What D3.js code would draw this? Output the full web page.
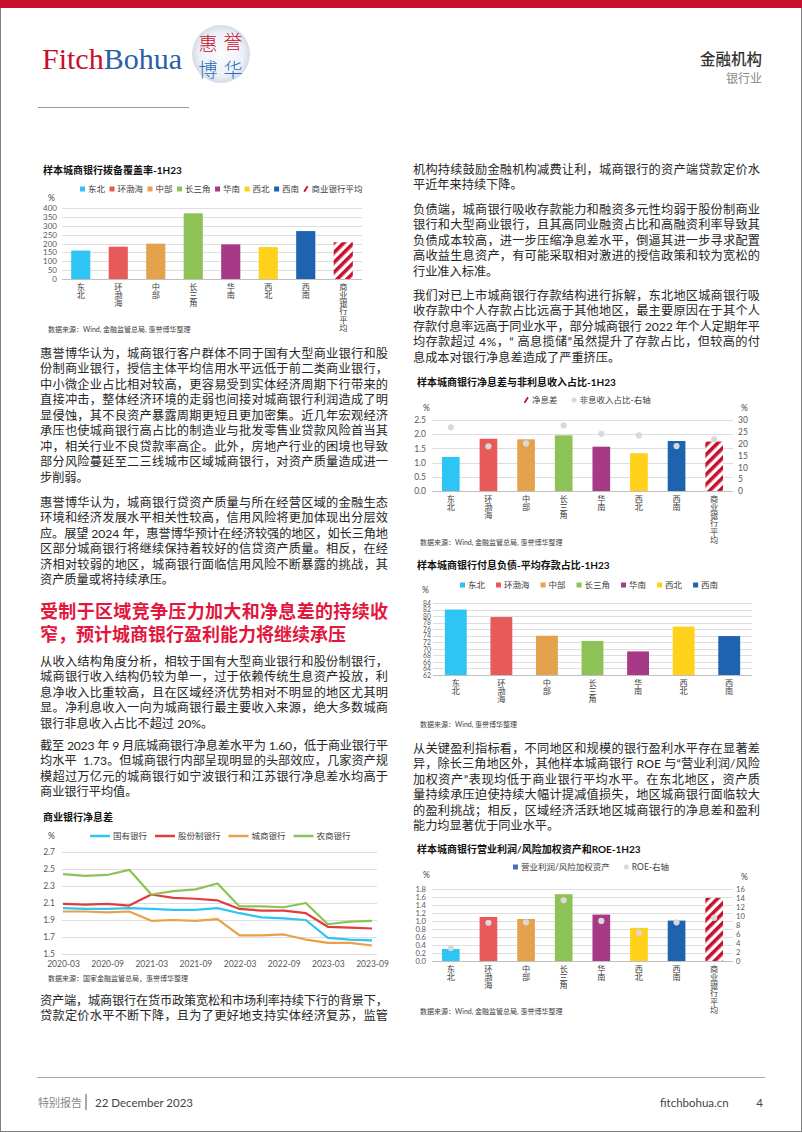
<!DOCTYPE html>
<html><head><meta charset="utf-8">
<script src="https://cdn.jsdelivr.net/npm/d3@7"></script>
<style>html,body{margin:0;padding:0;background:#fff;}svg{display:block;}
.vt{writing-mode:vertical-rl;text-orientation:upright;}</style>
</head><body>
<svg id="page" width="802" height="1133"></svg>
<script>
// ---------------- DATA ----------------
const regions = ["东北","环渤海","中部","长三角","华南","西北","西南"];
const regionsAvg = ["东北","环渤海","中部","长三角","华南","西北","西南","商业银行平均"];
const regionColors = ["#2ec4f3","#e85a5a","#e4a24c","#8dc356","#a63a86","#ffd11a","#1e63b0"];

// 拨备覆盖率 (%)
const coverageRatio = [160, 182, 199, 370, 195, 180, 270, 207];
const coverageTicks = [0,50,100,150,200,250,300,350,400];

// 净息差 (%) & 非息收入占比 (%, right axis)
const nimByRegion = [1.20, 1.84, 1.82, 1.96, 1.56, 1.33, 1.76, 1.74];
const nonInterestShare = [26.9, 18.9, 20.1, 27.7, 24.2, 23.5, 19.0, 21.8];
const nimTicks = [0,0.5,1.0,1.5,2.0,2.5];
const shareTicks = [0,5,10,15,20,25,30];

// 付息负债-平均存款占比 (%)
const depositShare = [82.0, 79.7, 74.0, 72.4, 69.2, 76.8, 73.9];
const depositTicks = [62,64,66,68,70,72,74,76,78,80,82,84];

// 商业银行净息差 (%)
const quarters = ["2020-03","2020-06","2020-09","2020-12","2021-03","2021-06","2021-09","2021-12","2022-03","2022-06","2022-09","2022-12","2023-03","2023-06","2023-09"];
const quarterLabels = ["2020-03","2020-09","2021-03","2021-09","2022-03","2022-09","2023-03","2023-09"];
const nimStateOwned = [2.04,2.03,2.03,2.04,2.03,2.02,2.02,2.04,1.98,1.93,1.92,1.90,1.69,1.67,1.66];
const nimJointStock = [2.09,2.08,2.09,2.07,2.20,2.16,2.15,2.13,2.03,2.01,2.01,1.98,1.82,1.81,1.80];
const nimCityComm  = [2.00,2.00,1.99,2.00,1.89,1.90,1.89,1.91,1.72,1.72,1.73,1.67,1.63,1.63,1.60];
const nimRuralComm = [2.44,2.42,2.43,2.49,2.20,2.24,2.26,2.33,2.06,2.06,2.05,2.10,1.85,1.88,1.89];
const lineSeriesNames = ["国有银行","股份制银行","城商银行","农商银行"];
const lineColors = ["#2ec4f3","#e23c3c","#e8a04a","#8dc356"];
const lineTicks = [1.5,1.7,1.9,2.1,2.3,2.5,2.7];

// 营业利润/风险加权资产 (%) & ROE (%, right axis)
const profitToRwa = [0.30, 1.10, 1.05, 1.67, 1.16, 0.83, 1.01, 1.58];
const roe = [2.9, 8.5, 8.6, 13.5, 8.9, 6.3, 8.6, 9.6];
const profitTicks = [0,0.2,0.4,0.6,0.8,1.0,1.2,1.4,1.6,1.8];
const roeTicks = [0,2,4,6,8,10,12,14,16];

// ---------------- TEXT ----------------
const leftPara1 = ["惠誉博华认为，城商银行客户群体不同于国有大型商业银行和股","份制商业银行，授信主体平均信用水平远低于前二类商业银行，","中小微企业占比相对较高，更容易受到实体经济周期下行带来的","直接冲击，整体经济环境的走弱也间接对城商银行利润造成了明","显侵蚀，其不良资产暴露周期更短且更加密集。近几年宏观经济","承压也使城商银行高占比的制造业与批发零售业贷款风险首当其","冲，相关行业不良贷款率高企。此外，房地产行业的困境也导致","部分风险蔓延至二三线城市区域城商银行，对资产质量造成进一","步削弱。"];
const leftPara2 = ["惠誉博华认为，城商银行贷资产质量与所在经营区域的金融生态","环境和经济发展水平相关性较高，信用风险将更加体现出分层效","应。展望 2024 年，惠誉博华预计在经济较强的地区，如长三角地","区部分城商银行将继续保持着较好的信贷资产质量。相反，在经","济相对较弱的地区，城商银行面临信用风险不断暴露的挑战，其","资产质量或将持续承压。"];
const heading = ["受制于区域竞争压力加大和净息差的持续收","窄，预计城商银行盈利能力将继续承压"];
const leftPara3 = ["从收入结构角度分析，相较于国有大型商业银行和股份制银行，","城商银行收入结构仍较为单一，过于依赖传统生息资产投放，利","息净收入比重较高，且在区域经济优势相对不明显的地区尤其明","显。净利息收入一向为城商银行最主要收入来源，绝大多数城商","银行非息收入占比不超过 20%。"];
const leftPara4 = ["截至 2023 年 9 月底城商银行净息差水平为 1.60，低于商业银行平","均水平  1.73。但城商银行内部呈现明显的头部效应，几家资产规","模超过万亿元的城商银行如宁波银行和江苏银行净息差水均高于","商业银行平均值。"];
const leftPara5 = ["资产端，城商银行在货币政策宽松和市场利率持续下行的背景下，","贷款定价水平不断下降，且为了更好地支持实体经济复苏，监管"];
const rightParaA = ["机构持续鼓励金融机构减费让利，城商银行的资产端贷款定价水","平近年来持续下降。"];
const rightParaB = ["负债端，城商银行吸收存款能力和融资多元性均弱于股份制商业","银行和大型商业银行，且其高同业融资占比和高融资利率导致其","负债成本较高，进一步压缩净息差水平，倒逼其进一步寻求配置","高收益生息资产，有可能采取相对激进的授信政策和较为宽松的","行业准入标准。"];
const rightParaC = ["我们对已上市城商银行存款结构进行拆解，东北地区城商银行吸","收存款中个人存款占比远高于其他地区，最主要原因在于其个人","存款付息率远高于同业水平，部分城商银行 2022 年个人定期年平","均存款超过 4%，“ 高息揽储”虽然提升了存款占比，但较高的付","息成本对银行净息差造成了严重挤压。"];
const rightParaD = ["从关键盈利指标看，不同地区和规模的银行盈利水平存在显著差","异，除长三角地区外，其他样本城商银行 ROE 与“营业利润/风险","加权资产”表现均低于商业银行平均水平。在东北地区，资产质","量持续承压迫使持续大幅计提减值损失，地区城商银行面临较大","的盈利挑战；相反，区域经济活跃地区城商银行的净息差和盈利","能力均显著优于同业水平。"];

// ---------------- DRAW ----------------
const FONT = "Lato, 'Noto Sans CJK SC', sans-serif";
const CJK = "'Noto Sans CJK SC', sans-serif";
const svg = d3.select("#page");
const defs = svg.append("defs");
const pat = defs.append("pattern").attr("id","hatch").attr("patternUnits","userSpaceOnUse")
  .attr("width",7).attr("height",7).attr("patternTransform","rotate(45)");
pat.append("rect").attr("width",7).attr("height",7).attr("fill","#fff");
pat.append("rect").attr("width",3.6).attr("height",7).attr("fill","#c8102e");
const rg = defs.append("radialGradient").attr("id","emb");
rg.append("stop").attr("offset","0%").attr("stop-color","#fbfcfe");
rg.append("stop").attr("offset","75%").attr("stop-color","#edf1f7");
rg.append("stop").attr("offset","100%").attr("stop-color","#d3dbe8");

// frame
svg.append("rect").attr("x",0.5).attr("y",0.5).attr("width",801).attr("height",1131).attr("fill","none").attr("stroke","#808080");
svg.append("rect").attr("x",0).attr("y",0).attr("width",802).attr("height",8).attr("fill","#c8102e");

// logo
const logo = svg.append("text").attr("x",42).attr("y",69).attr("font-family","'Liberation Serif', serif").attr("font-size",30);
logo.append("tspan").attr("fill","#c8102e").text("Fitch");
logo.append("tspan").attr("fill","#2b5fa6").text("Bohua");
svg.append("circle").attr("cx",221).attr("cy",54).attr("r",29).attr("fill","url(#emb)");
[["惠",208,42,"#c8102e"],["誉",233,40,"#c8102e"],["博",208,68,"#2b6cb8"],["华",233,68,"#2b6cb8"]].forEach(c=>{
  svg.append("text").attr("x",c[1]).attr("y",c[2]).attr("text-anchor","middle").attr("dominant-baseline","central")
    .attr("font-family",CJK).attr("font-weight",300).attr("font-size",19).attr("fill",c[3]).text(c[0]);
});
svg.append("line").attr("x1",38).attr("x2",189).attr("y1",107.5).attr("y2",107.5).attr("stroke","#999").attr("stroke-width",1);
svg.append("text").attr("x",762).attr("y",58).attr("text-anchor","end").attr("dominant-baseline","central")
  .attr("font-family",CJK).attr("font-size",15.5).attr("font-weight",500).attr("fill","#333").text("金融机构");
svg.append("text").attr("x",762).attr("y",77).attr("text-anchor","end").attr("dominant-baseline","central")
  .attr("font-family",CJK).attr("font-size",12).attr("fill","#888").text("银行业");

// footer
svg.append("line").attr("x1",37).attr("x2",765).attr("y1",1077.5).attr("y2",1077.5).attr("stroke","#aaa");
svg.append("text").attr("x",38).attr("y",1102).attr("dominant-baseline","central").attr("font-family",CJK).attr("font-size",11).attr("fill","#888").text("特别报告");
svg.append("line").attr("x1",86).attr("x2",86).attr("y1",1094).attr("y2",1110).attr("stroke","#555").attr("stroke-width",1);
svg.append("text").attr("x",95).attr("y",1102).attr("dominant-baseline","central").attr("font-family",FONT).attr("font-size",11.5).attr("fill","#444").text("22 December 2023");
svg.append("text").attr("x",660).attr("y",1102).attr("dominant-baseline","central").attr("font-family",FONT).attr("font-size",11.5).attr("fill","#444").text("fitchbohua.cn");
svg.append("text").attr("x",763).attr("y",1102).attr("text-anchor","end").attr("dominant-baseline","central").attr("font-family",FONT).attr("font-size",11.5).attr("fill","#444").text("4");

// paragraphs
function para(lines, x, y0, width, opts={}) {
  const lh = opts.lh || 15.5, fs = opts.fs || 12.2;
  lines.forEach((ln,i)=>{
    const t = svg.append("text").attr("x",x).attr("y",y0+i*lh).attr("dominant-baseline","central")
      .attr("font-family",FONT).attr("font-size",fs).attr("fill",opts.color||"#262626")
      .attr("font-weight",opts.weight||400).style("white-space","pre").text(ln);
    const last = i===lines.length-1 && !opts.justifyLast;
    if (!last) t.attr("textLength",width).attr("lengthAdjust","spacing");
  });
}
para(leftPara1, 40, 353, 348);
para(leftPara2, 40, 502, 348);
para(heading, 40, 611, 348, {lh:22.5, fs:18, weight:700, color:"#e3173e"});
para(leftPara3, 40, 661, 348);
para(leftPara4, 40, 745, 348);
para(leftPara5, 40, 1000, 348, {justifyLast:true});
para(rightParaA, 413, 169, 347);
para(rightParaB, 413, 209, 347);
para(rightParaC, 413, 295, 347);
para(rightParaD, 413, 748, 347);

// chart helpers
function title(x,y,t){ svg.append("text").attr("x",x).attr("y",y).attr("dominant-baseline","central").attr("font-family",FONT).attr("font-weight",700).attr("font-size",10).attr("fill","#111").text(t); }
function small(x,y,t,fs=8.5,anchor="start",fill="#404040"){ return svg.append("text").attr("x",x).attr("y",y).attr("dominant-baseline","central").attr("text-anchor",anchor).attr("font-family",FONT).attr("font-size",fs).attr("fill",fill).text(t); }
function legend(items, x0, y, gapAfter){
  let x = x0;
  items.forEach(it=>{
    let mw = 5;
    if (it.type==="rect") svg.append("rect").attr("x",x).attr("y",y-2.5).attr("width",5).attr("height",5).attr("fill",it.color);
    else if (it.type==="slash") svg.append("line").attr("x1",x+0.5).attr("y1",y+2.8).attr("x2",x+4).attr("y2",y-2.8).attr("stroke","#c8102e").attr("stroke-width",1.8);
    else if (it.type==="dot") svg.append("circle").attr("cx",x+2.5).attr("cy",y).attr("r",2.6).attr("fill","#d9d9d9");
    else if (it.type==="line") { mw = 20; svg.append("line").attr("x1",x).attr("x2",x+20).attr("y1",y).attr("y2",y).attr("stroke",it.color).attr("stroke-width",2.5); }
    const t = small(x+mw+3, y, it.label, 8.5);
    x += mw + 3 + t.node().getComputedTextLength() + gapAfter;
  });
}
function styleAxis(sel, fs=8.5){
  sel.select(".domain").remove();
  sel.attr("font-family",FONT).attr("font-size",fs);
  sel.selectAll("text").attr("fill","#595959");
}
function barChart(o){
  const x = d3.scaleBand().domain(o.cats).range([o.left,o.right]).paddingInner(o.pad).paddingOuter(o.pad/2);
  const y = d3.scaleLinear().domain(o.domain).range([o.bottom,o.top]);
  const tfs = o.tfs || 8.5;
  svg.append("g").selectAll("line").data(o.ticks).join("line")
    .attr("x1",o.left).attr("x2",o.right).attr("y1",d=>Math.round(y(d))+0.5).attr("y2",d=>Math.round(y(d))+0.5)
    .attr("stroke",d=>d===o.domain[0]?"#bfbfbf":"#dedede").attr("stroke-width",1);
  svg.append("g").attr("transform",`translate(${o.left-o.lgap},0)`)
    .call(d3.axisLeft(y).tickValues(o.ticks).tickFormat(o.fmt).tickSize(0).tickPadding(0)).call(s=>styleAxis(s,tfs));
  svg.append("g").selectAll("rect").data(o.values).join("rect")
    .attr("x",(d,i)=>x(o.cats[i])).attr("width",x.bandwidth())
    .attr("y",d=>y(d)).attr("height",d=>y(o.domain[0])-y(d))
    .attr("fill",(d,i)=> i<regionColors.length ? regionColors[i] : "url(#hatch)");
  // vertical category labels (stacked characters)
  svg.append("g").selectAll("text").data(o.cats).join("text")
    .attr("class","vt")
    .attr("x",c=>x(c)+x.bandwidth()/2).attr("y",o.bottom+3.5)
    .attr("font-family",CJK).attr("font-size",8.2).attr("fill","#404040").text(c=>c);
  if (o.right2){
    const y2 = d3.scaleLinear().domain(o.domain2).range([o.bottom,o.top]);
    svg.append("g").attr("transform",`translate(${o.right+o.rgap},0)`)
      .call(d3.axisRight(y2).tickValues(o.ticks2).tickSize(0).tickPadding(0)).call(s=>styleAxis(s,tfs));
    svg.append("g").selectAll("circle").data(o.right2).join("circle")
      .attr("cx",(d,i)=>x(o.cats[i])+x.bandwidth()/2).attr("cy",d=>y2(d)).attr("r",3.1).attr("fill","#d9d9d9");
  }
}

// Chart 1: 拨备覆盖率
title(43,170,"样本城商银行拨备覆盖率-1H23");
legend(regions.map((r,i)=>({type:"rect",color:regionColors[i],label:r})).concat([{type:"slash",label:"商业银行平均"}]), 80, 189, 4.5);
small(48,198,"%");
barChart({cats:regionsAvg, values:coverageRatio, left:62, right:362, top:208, bottom:279, pad:0.49,
  domain:[0,400], ticks:coverageTicks, fmt:d3.format("d"), lgap:5, tfs:8});
small(48,329,"数据来源：Wind, 金融监管总局, 惠誉博华整理",7);

// Chart 2: 净息差与非利息收入占比
title(417,382,"样本城商银行净息差与非利息收入占比-1H23");
legend([{type:"slash",label:"净息差"},{type:"dot",label:"非息收入占比-右轴"}], 524, 400, 14);
small(423,408,"%");
small(741,408,"%");
barChart({cats:regionsAvg, values:nimByRegion, left:432, right:733, top:420, bottom:491, pad:0.53,
  domain:[0,2.5], ticks:nimTicks, fmt:d3.format(".1f"), lgap:6,
  right2:nonInterestShare, domain2:[0,30], ticks2:shareTicks, rgap:5});
small(420,542,"数据来源：Wind, 金融监管总局, 惠誉博华整理",7);

// Chart 3: 付息负债-平均存款占比
title(417,565,"样本城商银行付息负债-平均存款占比-1H23");
legend(regions.map((r,i)=>({type:"rect",color:regionColors[i],label:r})), 460, 585, 11);
small(422,590,"%");
barChart({cats:regions, values:depositShare, left:433, right:752, top:603, bottom:675, pad:0.52,
  domain:[62,84], ticks:depositTicks, fmt:d3.format("d"), lgap:2, tfs:6.8});
small(420,724,"数据来源：Wind, 惠誉博华整理",7);

// Chart 4: 商业银行净息差
title(43,817,"商业银行净息差");
small(48,836,"%");
legend(lineSeriesNames.map((n,i)=>({type:"line",color:lineColors[i],label:n})), 90, 836, 8);
{
  const x = d3.scalePoint().domain(quarters).range([63,372]);
  const y = d3.scaleLinear().domain([1.5,2.7]).range([954,852]);
  svg.append("g").selectAll("line").data(lineTicks).join("line")
    .attr("x1",62).attr("x2",377).attr("y1",d=>Math.round(y(d))+0.5).attr("y2",d=>Math.round(y(d))+0.5)
    .attr("stroke","#dedede");
  svg.append("g").attr("transform","translate(55,0)")
    .call(d3.axisLeft(y).tickValues(lineTicks).tickFormat(d3.format(".1f")).tickSize(0).tickPadding(0)).call(s=>styleAxis(s));
  svg.append("g").attr("transform","translate(0,964)")
    .call(d3.axisBottom(x).tickValues(quarterLabels).tickSize(0).tickPadding(0)).call(s=>styleAxis(s))
    .selectAll("text").attr("dy",0).attr("dominant-baseline","central");
  const series = [nimStateOwned, nimJointStock, nimCityComm, nimRuralComm];
  const line = d3.line().x((d,i)=>x(quarters[i])).y(d=>y(d));
  series.forEach((s,k)=>{
    svg.append("path").attr("d",line(s)).attr("fill","none").attr("stroke",lineColors[k]).attr("stroke-width",2.2).attr("stroke-linejoin","round");
  });
}
small(48,978,"数据来源：国家金融监管总局，惠誉博华整理",7);

// Chart 5: 营业利润/风险加权资产和ROE
title(417,849,"样本城商银行营业利润/风险加权资产和ROE-1H23");
legend([{type:"rect",color:"#4472c4",label:"营业利润/风险加权资产"},{type:"dot",label:"ROE-右轴"}], 513, 867, 14);
small(423,875,"%");
small(741,877,"%");
barChart({cats:regionsAvg, values:profitToRwa, left:432, right:733, top:889, bottom:961, pad:0.53,
  domain:[0,1.8], ticks:profitTicks, fmt:d3.format(".1f"), lgap:6, tfs:7.6,
  right2:roe, domain2:[0,16], ticks2:roeTicks, rgap:3});
small(420,1011,"数据来源：Wind, 金融监管总局, 惠誉博华整理",7);
</script>
</body></html>
